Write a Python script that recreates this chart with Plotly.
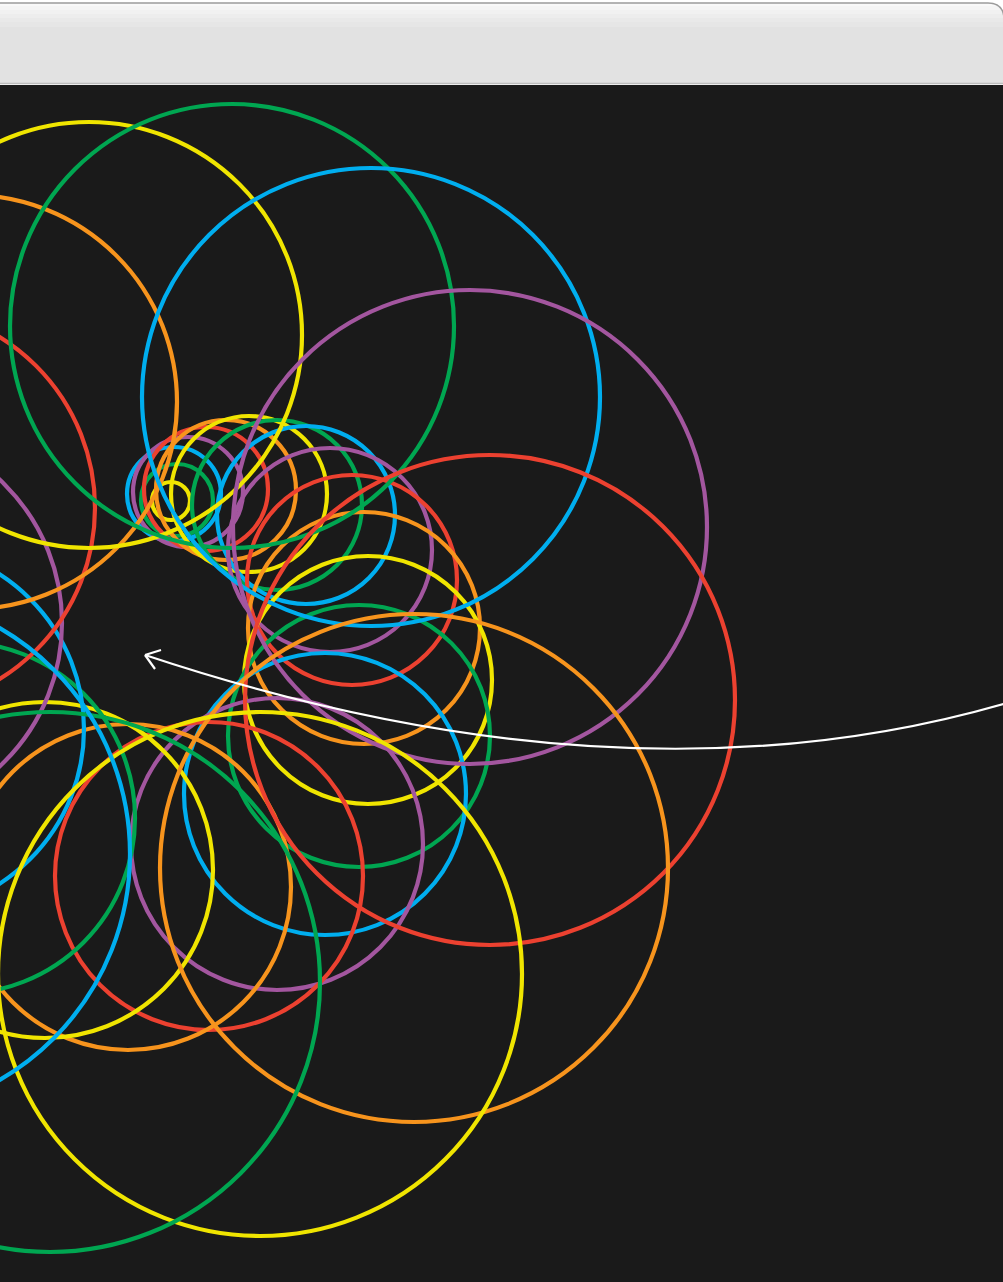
import plotly.graph_objects as go

# canvas (pixel space of the picture)
W, H = 1003, 1282

# circles, smallest to largest (pixel coords, y down)
colors = ["yellow", "green", "blue", "purple", "red", "orange",
          "yellow", "green", "blue", "purple", "red", "orange",
          "yellow", "green", "blue", "purple", "red", "orange",
          "yellow", "green", "blue", "purple", "red", "orange",
          "yellow", "green", "blue", "purple", "red", "orange",
          "yellow", "green", "blue"]
cx = [171, 177, 174, 188, 206, 226,
      249, 277, 306, 330, 352, 364,
      368, 359, 325, 277, 209, 128,
      45, -41, -100, -134, -106, -30,
      89, 232, 371, 470, 490, 414,
      260, 50, -131]
cy = [501, 500, 494, 492, 489, 490,
      494, 505, 515, 550, 580, 628,
      680, 736, 794, 844, 876, 887,
      870, 818, 729, 623, 508, 402,
      335, 326, 397, 527, 700, 868,
      974, 982, 854]
rad = [19, 36, 47, 55, 62, 70,
       78, 85, 89, 102, 105, 116,
       124, 131, 141, 146, 154, 163,
       168, 176, 184, 196, 201, 207,
       213, 222, 229, 237, 245, 254,
       262, 270, 261]

palette = {
    "red": "#ec4130",
    "orange": "#f7941d",
    "yellow": "#f0e500",
    "green": "#00a651",
    "blue": "#00aeef",
    "purple": "#a3569f",
}

# white pointer: start, control, tip
arrow_start = (1010, 702)
arrow_ctrl = (626, 815)
arrow_tip = (145, 655)
arrow_legs = [(161, 650), (155, 669)]

# window title bar bands (y0, y1, colour)
bar_bands = [(3, 6, "#f9f9f9"), (6, 10, "#f5f5f5"), (10, 14, "#f1f1f1"),
             (14, 18, "#ededed"), (18, 22, "#e9e9e9"), (22, 27, "#e6e6e6"),
             (27, 83, "#e2e2e2")]

fig = go.Figure()
# invisible trace so the axes exist
fig.add_trace(go.Scatter(x=[0, W], y=[0, H], mode="markers",
                         marker=dict(opacity=0), hoverinfo="skip", showlegend=False))

shapes = []
# header
shapes.append(dict(type="rect", xref="x", yref="y", x0=0, x1=W, y0=0, y1=85,
                   fillcolor="#ffffff", line=dict(width=0), layer="above"))
for y0, y1, c in bar_bands:
    shapes.append(dict(type="rect", xref="x", yref="y", x0=0, x1=W, y0=y0, y1=y1,
                       fillcolor=c, line=dict(width=0), layer="above"))
shapes.append(dict(type="path", xref="x", yref="y",
                   path="M 988,0 L 1004,0 L 1004,18 Q 1003,3 988,3 Z",
                   fillcolor="#ffffff", line=dict(width=0), layer="above"))
shapes.append(dict(type="path", xref="x", yref="y",
                   path="M 0,3 L 988,3 Q 1003,3 1004,18",
                   line=dict(color="#9c9c9c", width=1.5), layer="above"))
shapes.append(dict(type="line", xref="x", yref="y", x0=0, x1=W, y0=83.5, y1=83.5,
                   line=dict(color="#bdbdbd", width=1.5), layer="above"))

# circles
for c, x, y, r in zip(colors, cx, cy, rad):
    shapes.append(dict(type="circle", xref="x", yref="y",
                       x0=x - r, x1=x + r, y0=y - r, y1=y + r,
                       line=dict(color=palette[c], width=4.2), layer="below"))

# pointer
shapes.append(dict(type="path", xref="x", yref="y",
                   path=f"M {arrow_start[0]},{arrow_start[1]} Q {arrow_ctrl[0]},{arrow_ctrl[1]} {arrow_tip[0]},{arrow_tip[1]}",
                   line=dict(color="#ffffff", width=2.2), layer="below"))
for lx, ly in arrow_legs:
    shapes.append(dict(type="line", xref="x", yref="y",
                       x0=arrow_tip[0], y0=arrow_tip[1], x1=lx, y1=ly,
                       line=dict(color="#ffffff", width=2.2), layer="below"))

fig.update_layout(
    width=W, height=H,
    margin=dict(l=0, r=0, t=0, b=0),
    paper_bgcolor="#1a1a1a",
    plot_bgcolor="#1a1a1a",
    shapes=shapes,
    xaxis=dict(range=[0, W], visible=False, fixedrange=True),
    yaxis=dict(range=[H, 0], visible=False, fixedrange=True),
    showlegend=False,
)

fig.write_html("out.html", config={"displayModeBar": False},
               post_script="document.body.style.margin='0';document.body.style.overflow='hidden';")
